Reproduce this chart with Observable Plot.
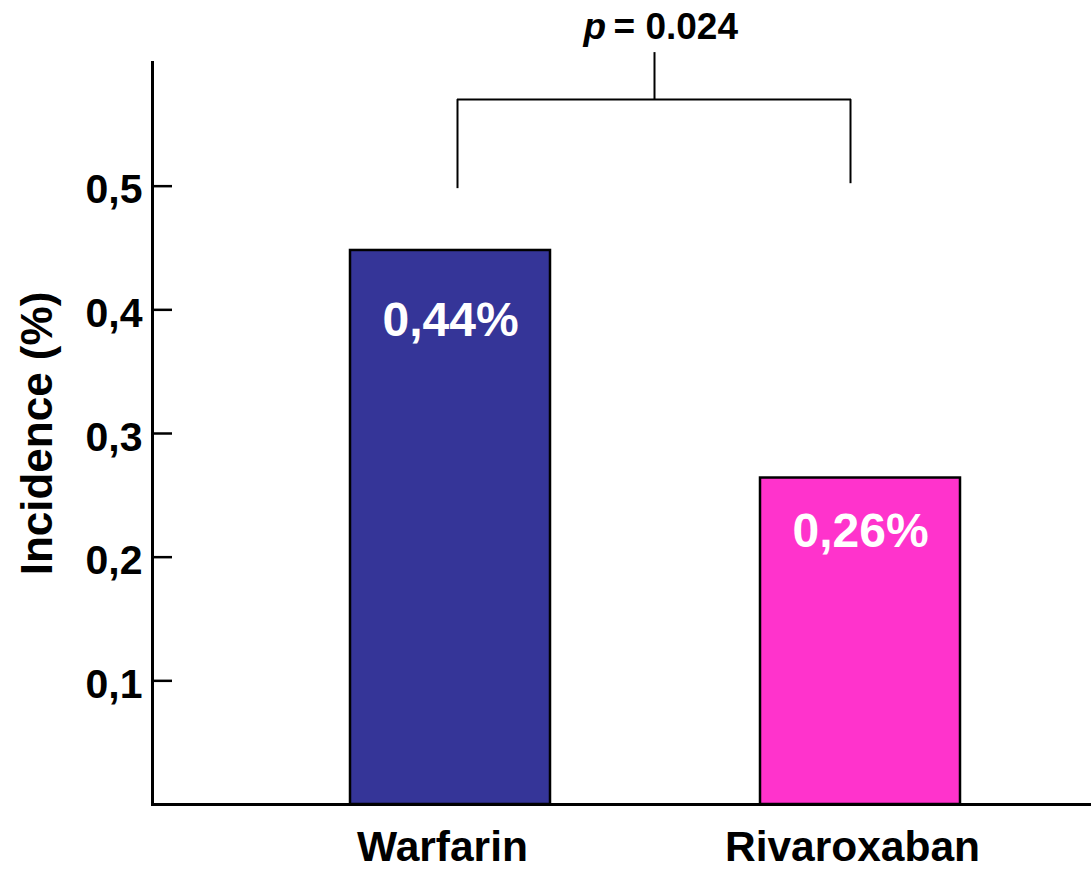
<!DOCTYPE html>
<html>
<head>
<meta charset="utf-8">
<script src="https://cdn.jsdelivr.net/npm/d3@7"></script>
<script src="https://cdn.jsdelivr.net/npm/@observablehq/plot@0.6"></script>
<style>
  html, body { margin: 0; padding: 0; background: #fff; }
  #chart svg { display: block; }
</style>
</head>
<body>
<div id="chart"></div>
<script>
const categories = ["Warfarin", "Rivaroxaban"];
const incidence = [0.448, 0.264];
const barLabels = ["0,44%", "0,26%"];
const barColors = ["#353598", "#FF33CC"];
const yTicks = [0.1, 0.2, 0.3, 0.4, 0.5];
const yTitle = "Incidence (%)";
const pSymbol = "p";
const pValueText = "= 0.024";
const bracketLegBottoms = [0.498, 0.502];
const bracketTop = 0.570;
const bracketStemTop = 0.608;

const bars = categories.map((c, i) => ({category: c, value: incidence[i], label: barLabels[i]}));
const legs = categories.map((c, i) => ({category: c, bottom: bracketLegBottoms[i]}));

const font = "Liberation Sans, Arial, Helvetica, sans-serif";
const W = 1091, H = 869, ML = 152, MR = 0, MT = 62, MB = 65;

const chart = Plot.plot({
  width: W,
  height: H,
  marginLeft: ML,
  marginRight: MR,
  marginTop: MT,
  marginBottom: MB,
  style: {fontFamily: font, background: "#fff", overflow: "visible"},
  x: {type: "band", domain: categories, paddingInner: 0.512, paddingOuter: 0.401, align: 0.602, axis: null},
  y: {domain: [0, 0.6], axis: null},
  color: {domain: categories, range: barColors},
  marks: [
    Plot.barY(bars, {x: "category", y: "value", fill: "category", stroke: "black", strokeWidth: 2.5}),
    Plot.text(bars.filter(d => d.category === "Warfarin"), {x: "category", y: "value", text: "label", lineAnchor: "top", dy: 51, fill: "white", fontSize: 48, fontWeight: "bold", fontFamily: font}),
    Plot.text(bars.filter(d => d.category === "Rivaroxaban"), {x: "category", y: "value", text: "label", lineAnchor: "top", dy: 35, fill: "white", fontSize: 48, fontWeight: "bold", fontFamily: font}),
    // axes
    Plot.ruleY([0], {strokeWidth: 3, stroke: "black"}),
    Plot.frame({anchor: "left", strokeWidth: 3, stroke: "black"}),
    Plot.ruleY(yTicks, {strokeWidth: 2.5, stroke: "black", insetRight: W - ML - MR - 20}),
    Plot.axisY({ticks: yTicks, tickSize: 0, tickPadding: 10, dy: 4, label: null, tickFormat: d => d.toFixed(1).replace(".", ","), fontSize: 41, fontWeight: "bold", fontFamily: font, fill: "black"}),
    Plot.axisX({tickSize: 0, tickPadding: 26, dx: -8, label: null, fontSize: 42.5, fontWeight: "bold", fontFamily: font, fill: "black"}),
    Plot.text([yTitle], {frameAnchor: "left", textAnchor: "middle", rotate: -90, dx: 37 - ML, text: d => d, fontSize: 44, fontWeight: "bold", fontFamily: font, fill: "black"}),
    // significance bracket
    Plot.ruleX(legs.filter(d => d.category === "Warfarin"), {x: "category", y1: "bottom", y2: () => bracketTop, dx: 7, stroke: "black", strokeWidth: 2}),
    Plot.ruleX(legs.filter(d => d.category === "Rivaroxaban"), {x: "category", y1: "bottom", y2: () => bracketTop, dx: -10, stroke: "black", strokeWidth: 2}),
    Plot.ruleY([bracketTop], {insetLeft: 457 - ML, insetRight: W - 851, stroke: "black", strokeWidth: 2}),
    Plot.ruleX(legs.filter(d => d.category === "Warfarin"), {x: "category", y1: () => bracketTop, y2: () => bracketStemTop, dx: 204, stroke: "black", strokeWidth: 2}),
    Plot.text([pSymbol], {frameAnchor: "top", text: d => d, textAnchor: "start", lineAnchor: "bottom", dx: 583 - (ML + W - MR) / 2, dy: -24, fontSize: 37, fontWeight: "bold", fontStyle: "italic", fontFamily: font, fill: "black"}),
    Plot.text([pValueText], {frameAnchor: "top", text: d => d, textAnchor: "start", lineAnchor: "bottom", dx: 613 - (ML + W - MR) / 2, dy: -24, fontSize: 37, fontWeight: "bold", fontFamily: font, fill: "black"})
  ]
});
document.getElementById("chart").appendChild(chart);
</script>
</body>
</html>
